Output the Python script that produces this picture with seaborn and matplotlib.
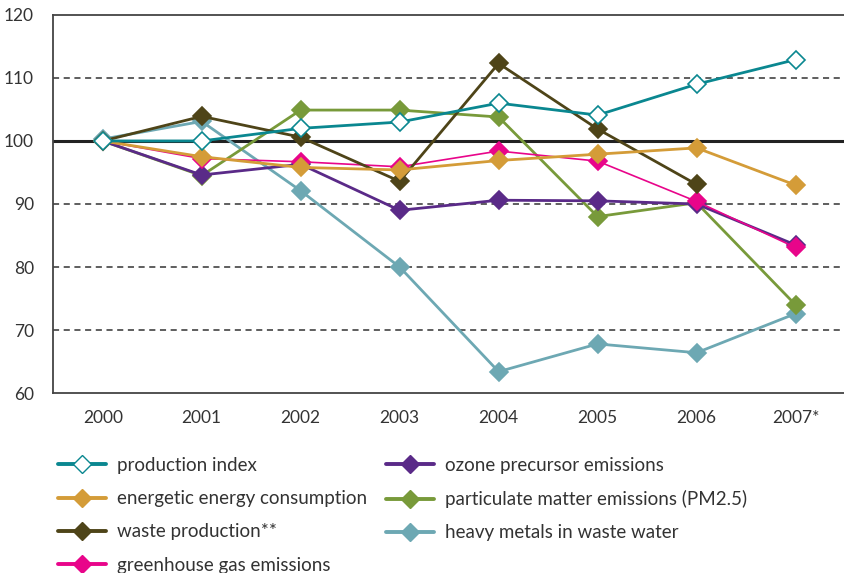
import numpy as np
import pandas as pd
import seaborn as sns
import matplotlib.pyplot as plt
from matplotlib.lines import Line2D

# data (index, 2000 = 100)
years = ["2000", "2001", "2002", "2003", "2004", "2005", "2006", "2007*"]
production_index = [100, 100, 102.0, 103.0, 106.0, 104.1, 109.0, 112.9]
energetic_energy = [100, 97.5, 95.8, 95.4, 96.9, 97.9, 98.9, 93.0]
waste_production = [100, 103.9, 100.6, 93.6, 112.3, 101.9, 93.1, np.nan]
greenhouse_gas = [100, 97.2, 96.7, 95.9, 98.4, 96.8, 90.4, 83.1]
ozone_precursor = [100, 94.6, 96.3, 89.0, 90.6, 90.5, 90.0, 83.5]
particulate_pm25 = [100, 94.5, 104.9, 104.9, 103.8, 88.0, 90.2, 74.0]
heavy_metals = [100.3, 103.1, 92.1, 80.0, 63.4, 67.8, 66.4, 72.6]

series = [
    ("production index", production_index, "#0a8790", 2.0, True),
    ("energetic energy consumption", energetic_energy, "#d49c38", 2.0, False),
    ("waste production**", waste_production, "#4e4418", 2.0, False),
    ("greenhouse gas emissions", greenhouse_gas, "#e8058a", 1.2, False),
    ("ozone precursor emissions", ozone_precursor, "#5a2a88", 2.0, False),
    ("particulate matter emissions (PM2.5)", particulate_pm25, "#789a3a", 2.0, False),
    ("heavy metals in waste water", heavy_metals, "#6da8b3", 2.0, False),
]

sns.set_style("white")
plt.rcParams['font.family'] = ['Lato', 'DejaVu Sans']

fig = plt.figure(figsize=(8.45, 5.73), dpi=100)
ax = fig.add_axes([0.063, 0.314, 0.937, 0.66])

# reference lines
for v in [70, 80, 90, 110]:
    ax.axhline(v, color="#333333", linestyle=(0, (4, 3)), linewidth=1.1, zorder=1)
ax.axhline(100, color="#222222", linewidth=2.2, zorder=1)

x = np.arange(len(years))
handles = []
# draw in reverse so production index ends on top
for name, vals, color, lw, hollow in reversed(series):
    df = pd.DataFrame({"x": x, "y": vals}).dropna()
    face = "white" if hollow else color
    sns.lineplot(data=df, x="x", y="y", ax=ax, color=color, linewidth=lw,
                 marker="D", markersize=9.5, markerfacecolor=face,
                 markeredgecolor=color, markeredgewidth=1.2, zorder=3)

for name, vals, color, lw, hollow in series:
    face = "white" if hollow else color
    handles.append(Line2D([], [], color=color, linewidth=2.8, marker="D",
                          markersize=9, markerfacecolor=face,
                          markeredgecolor=color, label=name))

ax.set_xlim(-0.5, 7.5)
ax.set_ylim(60, 120)
ax.set_yticks([60, 70, 80, 90, 100, 110, 120])
ax.set_xticks(x)
ax.set_xticklabels(years)
ax.set_xticks(np.arange(0.5, 7, 1), minor=True)
ax.tick_params(axis="x", which="major", length=0, pad=12, labelsize=12.5, labelcolor="#333333")
ax.tick_params(axis="x", which="minor", direction="in", length=8, width=1.2, color="#444444")
ax.tick_params(axis="y", length=0, pad=14, labelsize=12.5, labelcolor="#333333")
ax.set_xlabel("")
ax.set_ylabel("")

for s in ["left", "bottom", "top"]:
    ax.spines[s].set_color("#444444")
    ax.spines[s].set_linewidth(1.3)
ax.spines["right"].set_visible(False)

fig.legend(handles=handles, ncol=2, loc="upper left", bbox_to_anchor=(0.051, 0.229),
           frameon=False, fontsize=13.5, handlelength=2.55, labelspacing=0.87,
           columnspacing=1.0, handletextpad=0.6, labelcolor="#333333",
           borderpad=0.3)

fig.savefig("out.png", dpi=100)
